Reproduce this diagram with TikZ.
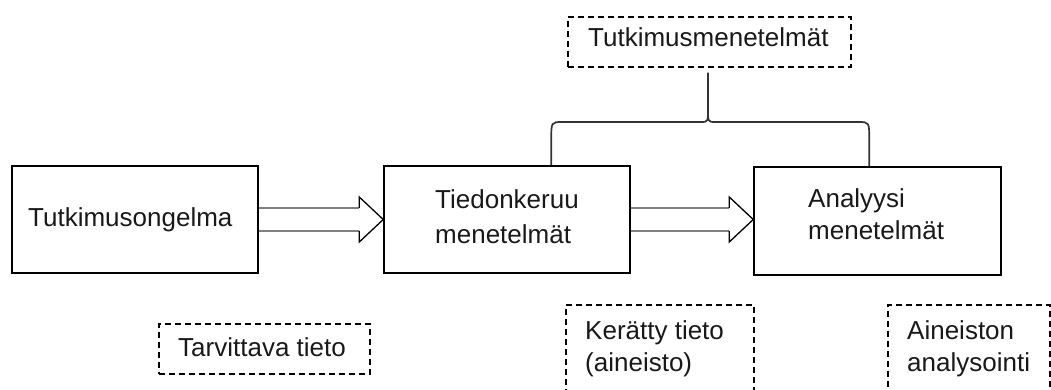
\documentclass[tikz,border=0pt]{standalone}
\usepackage{fontspec}
\setmainfont{Liberation Sans}
\usetikzlibrary{calc}
\tikzset{
  solidbox/.style={draw=black, line width=1.5pt, inner sep=0pt},
  dashbox/.style={draw=black, line width=1.4pt, dash pattern=on 6pt off 4pt, inner sep=0pt},
  lbl/.style={anchor=base west, inner sep=0pt, font=\fontsize{26}{32}\selectfont, text=black!90},
  shaft/.style={draw=black!50, line width=2.2pt},
  head/.style={draw=black, line width=1.3pt, line join=miter},
  bracestyle/.style={draw=black!80, line width=1.7pt},
}
\newcommand\twolines[3]{\begin{tabular}[t]{@{}l@{}}#1\\[#3]#2\end{tabular}}
\begin{document}
\begin{tikzpicture}[x=1pt,y=1pt]
\clip (0,0) rectangle (1051,390);
\fill[white] (0,0) rectangle (1051,390);

% main boxes
\node[solidbox, minimum width=246pt, minimum height=107pt] (b1) at (135,170.5) {};
\node[solidbox, minimum width=246pt, minimum height=107pt] (b2) at (507,170.5) {};
\node[solidbox, minimum width=247pt, minimum height=108pt] (b3) at (877.5,169) {};

\node[lbl] (t1) at (28,163) {Tutkimusongelma};
\node[lbl] (t2) at (435,181) {\twolines{Tiedonkeruu}{menetelmät}{3pt}};
\node[lbl] (t3) at (808,182) {\twolines{Analyysi}{menetelmät}{0pt}};

% dashed boxes
\node[dashbox, minimum width=283pt, minimum height=50pt] (m) at (709.5,348) {};
\node[lbl] (tm) at (588,343.3) {Tutkimusmenetelmät};

\node[dashbox, minimum width=211pt, minimum height=50pt] (d1) at (264.5,41) {};
\node[lbl] (td1) at (178,33.3) {Tarvittava tieto};

\node[dashbox, minimum width=188pt, minimum height=110pt] (d2) at (660,30) {};
\node[lbl] (td2) at (585,50.7) {\twolines{Kerätty tieto}{(aineisto)}{0pt}};

\node[dashbox, minimum width=162pt, minimum height=110pt] (d3) at (969,30) {};
\node[lbl] (td3) at (907,50.7) {\twolines{Aineiston}{analysointi}{0pt}};

% block arrows
\coordinate (tipA) at (b2.west |- b1.east);
\draw[shaft] ($(b1.east)+(0,11.5)$) -- ($(tipA)+(-24,11.5)$);
\draw[shaft] ($(b1.east)+(0,-11.5)$) -- ($(tipA)+(-24,-11.5)$);
\draw[head] ($(tipA)+(-24,11.5)$) -- ($(tipA)+(-24,22.5)$) -- (tipA)
  -- ($(tipA)+(-24,-22.5)$) -- ($(tipA)+(-24,-11.5)$);

\coordinate (tipB) at (b3.west |- b2.east);
\draw[shaft] ($(b2.east)+(0,11.5)$) -- ($(tipB)+(-24,11.5)$);
\draw[shaft] ($(b2.east)+(0,-11.5)$) -- ($(tipB)+(-24,-11.5)$);
\draw[head] ($(tipB)+(-24,11.5)$) -- ($(tipB)+(-24,22.5)$) -- (tipB)
  -- ($(tipB)+(-24,-22.5)$) -- ($(tipB)+(-24,-11.5)$);

% brace
\coordinate (bl) at ($(b2.north west)+(168,0)$);
\coordinate (br) at ($(b3.north west)+(116,0)$);
\coordinate (bt) at ($(m.south)+(-1.5,-5)$);
\draw[bracestyle] (bl) -- ($(bl|-0,250)$) .. controls ($(bl|-0,268)$) .. ($(bl|-0,268)+(11,0)$)
  -- ($(bt|-0,268)+(-7,0)$) .. controls ($(bt|-0,268)$) .. ($(bt|-0,282)$) -- (bt);
\draw[bracestyle] (br) -- ($(br|-0,250)$) .. controls ($(br|-0,268)$) .. ($(br|-0,268)+(-11,0)$)
  -- ($(bt|-0,268)+(7,0)$) .. controls ($(bt|-0,268)$) .. ($(bt|-0,282)$);
\end{tikzpicture}
\end{document}
